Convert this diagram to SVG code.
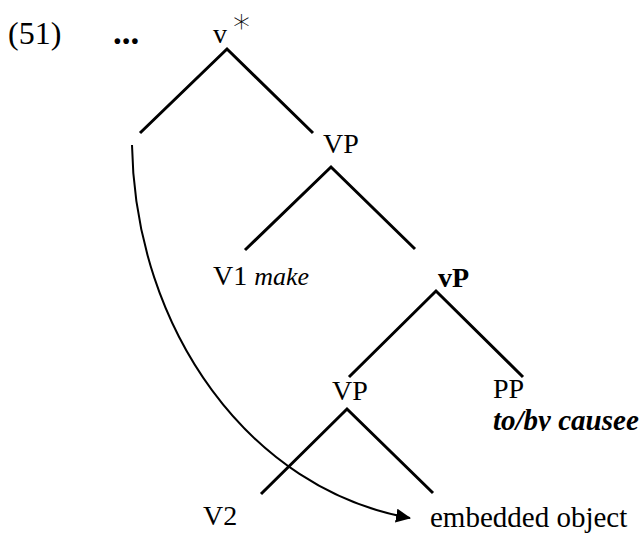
<svg xmlns="http://www.w3.org/2000/svg" width="641" height="536" viewBox="0 0 641 536">
<style>
  text { font-family: 'Liberation Serif', 'DejaVu Serif', serif; font-size: 28px; fill: #000; }
  .it { font-style: italic; }
  .b { font-weight: bold; }
  .edge { stroke: #000; stroke-width: 3; fill: none; stroke-linecap: butt; }
  .mv { stroke: #000; stroke-width: 2; fill: none; }
</style>
<defs>
  <marker id="ah" viewBox="0 0 15 14" refX="14" refY="7" markerWidth="15" markerHeight="14" markerUnits="userSpaceOnUse" orient="auto">
    <path d="M0,0 L15,7 L0,14 Z" fill="#000"/>
  </marker>
  <clipPath id="clipPP"><rect x="480" y="400" width="170" height="31"/></clipPath>
</defs>
<rect width="641" height="536" fill="#fff"/>
<g id="label">
  <text x="8" y="44" style="font-size:32px">(51)</text>
  <text x="113" y="44" class="b" style="font-size:35px">...</text>
</g>
<g id="vstar">
  <text x="213" y="43">v</text>
  <text x="233" y="39" style="font-family:'DejaVu Sans',sans-serif;font-size:34px;font-weight:300">*</text>
</g>
<g id="vp1"><text x="323" y="153">VP</text></g>
<g id="v1"><text x="213" y="285">V1 <tspan class="it" style="font-size:26px">make</tspan></text></g>
<g id="vP"><text x="438" y="287" class="b">vP</text></g>
<g id="vp2"><text x="332" y="400">VP</text></g>
<g id="pp">
  <text x="493" y="398">PP</text>
  <text x="493" y="430" class="b it" style="font-size:29px" clip-path="url(#clipPP)">to/by causee</text>
</g>
<g id="v2"><text x="203" y="525">V2</text></g>
<g id="obj"><text x="430" y="527" style="font-size:29px">embedded object</text></g>
<g id="connectors">
  <path class="edge" d="M140,133 L227,49 L313,133"/>
  <path class="edge" d="M245,250 L331,167 L415,249"/>
  <path class="edge" d="M349,377 L436,291 L523,377"/>
  <path class="edge" d="M261,494 L347,409 L433,493"/>
  <path class="mv" d="M132,145 C135,330 250,490 410,518" marker-end="url(#ah)"/>
</g>
</svg>
